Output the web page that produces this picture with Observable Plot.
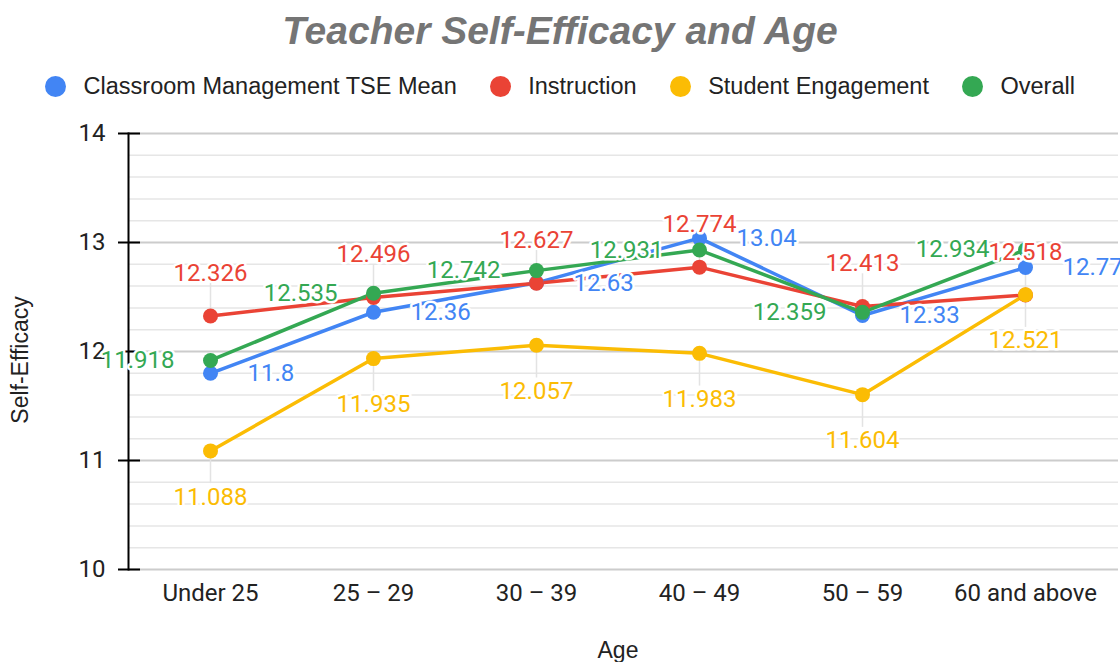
<!DOCTYPE html>
<html>
<head>
<meta charset="utf-8">
<script src="https://cdn.jsdelivr.net/npm/d3@7"></script>
<script src="https://cdn.jsdelivr.net/npm/@observablehq/plot@0.6"></script>
<style>
  html, body { margin: 0; padding: 0; background: #fff; }
  body { width: 1120px; height: 662px; overflow: hidden; position: relative; font-family: "Liberation Sans", Arial, sans-serif; }
  #title { position: absolute; left: 0; top: 11px; width: 1120px; text-align: center; font-style: italic; font-weight: bold; font-size: 39px; line-height: 39px; color: #757575; }
  #legend { position: absolute; left: 0; top: 73px; width: 1120px; display: flex; justify-content: center; align-items: center; font-size: 23.5px; line-height: 26px; color: #222; }
  .item { display: flex; align-items: center; margin: 0 16.5px; }
  .sw { width: 21px; height: 21px; border-radius: 50%; margin-right: 17.5px; }
  #ylab { position: absolute; left: 20px; top: 360px; transform: translate(-50%, -50%) rotate(-90deg); font-size: 23px; color: #222; white-space: nowrap; }
  #xlab { position: absolute; left: 618px; top: 650px; transform: translate(-50%, -50%); font-size: 23px; color: #222; white-space: nowrap; }
  #chart { position: absolute; left: 0; top: 110px; }
</style>
</head>
<body>
<div id="title">Teacher Self-Efficacy and Age</div>
<div id="legend"></div>
<div id="chart"></div>
<div id="ylab">Self-Efficacy</div>
<div id="xlab">Age</div>
<script>
const ages = ["Under 25", "25 – 29", "30 – 39", "40 – 49", "50 – 59", "60 and above"];
const seriesNames = ["Classroom Management TSE Mean", "Instruction", "Student Engagement", "Overall"];
const classroom = [11.8, 12.36, 12.63, 13.04, 12.33, 12.77];
const instruction = [12.326, 12.496, 12.627, 12.774, 12.413, 12.518];
const engagement = [11.088, 11.935, 12.057, 11.983, 11.604, 12.521];
const overall = [11.918, 12.535, 12.742, 12.931, 12.359, 12.934];
const colors = ["#4285F4", "#EA4335", "#FBBC04", "#34A853"];
const yTicks = [10, 11, 12, 13, 14];

const seriesValues = [classroom, instruction, engagement, overall];
const rows = seriesNames.flatMap((s, i) => ages.map((a, j) => ({series: s, age: a, value: seriesValues[i][j]})));
const bySeries = s => rows.filter(d => d.series === s);

// legend
const legend = document.getElementById("legend");
seriesNames.forEach((s, i) => {
  const it = document.createElement("div");
  it.className = "item";
  it.innerHTML = `<span class="sw" style="background:${colors[i]}"></span><span>${s}</span>`;
  legend.appendChild(it);
});

const W = 1120, H = 552, mL = 128, mR = 2, mT = 23, mB = 93;
const minor = d3.ticks(10, 14, 20).filter(v => !yTicks.includes(v));
const labelFont = {fontFamily: "Roboto", fontSize: 24, stroke: "white", strokeWidth: 5};

const chart = Plot.plot({
  width: W, height: H,
  marginLeft: mL, marginRight: mR, marginTop: mT, marginBottom: mB,
  style: {fontFamily: "Roboto", fontSize: "24px", color: "#222", background: "white", overflow: "visible"},
  x: {type: "point", domain: ages, padding: 0.5, insetRight: 12, label: null},
  y: {domain: [10, 14], label: null},
  color: {domain: seriesNames, range: colors},
  marks: [
    Plot.ruleY(minor, {stroke: "#e6e6e6", strokeWidth: 1.5}),
    Plot.ruleY(yTicks, {stroke: "#cccccc", strokeWidth: 2}),
    // label leader lines
    Plot.ruleX(bySeries("Instruction"), {x: "age", y1: "value", y2: d => d.value + 0.3, stroke: "#e3e3e3", strokeWidth: 1.5}),
    Plot.ruleX(bySeries("Student Engagement"), {x: "age", y1: "value", y2: d => d.value - 0.3, stroke: "#e3e3e3", strokeWidth: 1.5}),
    Plot.line(rows, {x: "age", y: "value", z: "series", stroke: "series", strokeWidth: 3.5}),
    Plot.dot(rows, {x: "age", y: "value", fill: "series", r: 7.5}),
    Plot.frame({anchor: "left", stroke: "black", strokeWidth: 2}),
    Plot.ruleY(yTicks, {stroke: "black", strokeWidth: 2, insetLeft: -10, insetRight: W - mL - mR - 12}),
    Plot.axisY(yTicks, {tickSize: 0, tickPadding: 23, fontSize: 24, fontFamily: "Roboto", tickFormat: d => String(d), label: null}),
    Plot.axisX({tickSize: 0, tickPadding: 14, fontSize: 24, fontFamily: "Roboto", label: null}),
    Plot.text(bySeries(seriesNames[0]), {x: "age", y: "value", text: d => String(d.value), fill: colors[0], dx: 37, textAnchor: "start", ...labelFont}),
    Plot.text(bySeries(seriesNames[1]), {x: "age", y: "value", text: d => String(d.value), fill: colors[1], dy: -43, ...labelFont}),
    Plot.text(bySeries(seriesNames[2]), {x: "age", y: "value", text: d => String(d.value), fill: colors[2], dy: 46, ...labelFont}),
    Plot.text(bySeries(seriesNames[3]), {x: "age", y: "value", text: d => String(d.value), fill: colors[3], dx: -36, textAnchor: "end", ...labelFont})
  ]
});
document.getElementById("chart").appendChild(chart);
</script>
</body>
</html>
